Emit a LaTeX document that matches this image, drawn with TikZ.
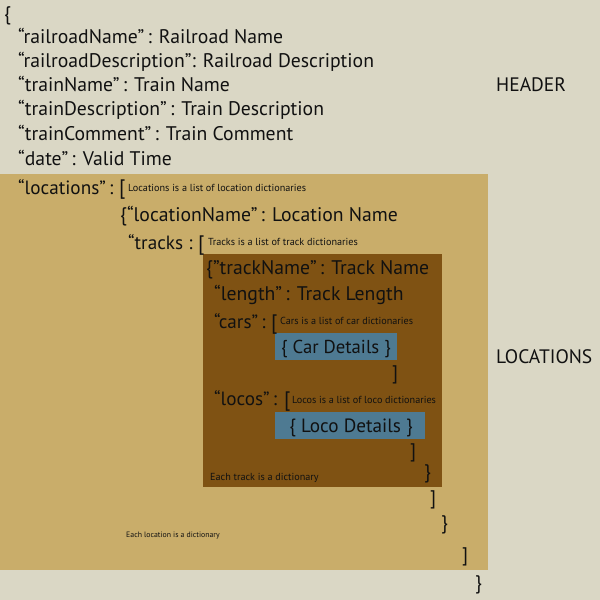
\documentclass[tikz,border=0pt]{standalone}
\usepackage{fontspec}
\setmainfont{PT Sans}
\definecolor{bgc}{HTML}{DAD7C5}
\definecolor{tanc}{HTML}{C9AD6A}
\definecolor{brownc}{HTML}{7F5213}
\definecolor{bluec}{HTML}{4E7A92}
\definecolor{inkc}{HTML}{111111}
\begin{document}
\begin{tikzpicture}[x=1pt,y=-1pt,
  txt/.style={anchor=base west,inner sep=0pt,text=inkc,font=\fontsize{19.7}{22}\selectfont},
  big/.style={txt,font=\fontsize{19.2}{22}\selectfont},
  brk/.style={txt,font=\fontsize{21}{22}\selectfont},
  note/.style={txt,font=\fontsize{10.2}{12}\selectfont},
  smallnote/.style={txt,font=\fontsize{7.8}{9}\selectfont},
  lbl/.style={txt,font=\fontsize{19.5}{21}\selectfont},
  box/.style={draw=none}]
\fill[bgc] (0,0) rectangle (600,600);
\useasboundingbox (0,0) rectangle (600,600);
\fill[tanc] (0,174) rectangle (488,570);
\fill[brownc] (203,254) rectangle (442,487);
\node[box,fill=bluec,minimum width=122pt,minimum height=27pt,inner sep=0pt,anchor=north west] (carbox) at (275,333) {};
\node[box,fill=bluec,minimum width=150pt,minimum height=27pt,inner sep=0pt,anchor=north west] (locobox) at (275,412) {};
% header
\node[txt] (ob) at (4,20) {\{};
\node[txt] (h1) at (18,43) {“railroadName”\,: Railroad Name};
\node[txt] (h2) at (18,67) {“railroadDescription”: Railroad Description};
\node[txt] (h3) at (18,91) {“trainName”\,: Train Name};
\node[txt] (h4) at (18,115) {“trainDescription”\,: Train Description};
\node[txt] (h5) at (18,140) {“trainComment”\,: Train Comment};
\node[txt] (h6) at (18,165) {“date”\,: Valid Time};
\node[lbl] (header) at (496,91) {HEADER};
\node[lbl] (locs) at (496,363) {LOCATIONS};
% locations
\node[big] (l1) at (18,194) {“locations”\,:};
\node[brk] (l1b) at (119,194) {[};
\node[note] (n1) at (128,191) {Locations is a list of location dictionaries};
\node[txt] (l2) at (120,221) {\{“locationName”\,: Location Name};
\node[big] (l3) at (128,249) {“tracks :};
\node[brk] (l3b) at (198,250) {[};
\node[note] (n2) at (208,245) {Tracks is a list of track dictionaries};
% tracks
\node[txt] (t1) at (206,274) {\{”trackName”\,: Track Name};
\node[txt] (t2) at (214,300) {“length”\,: Track Length};
\node[big] (t3) at (214,328) {“cars”\,:};
\node[brk] (t3b) at (271,329) {[};
\node[note] (n3) at (280,324) {Cars is a list of car dictionaries};
\node[txt,anchor=base,font=\fontsize{18.7}{21}\selectfont] (cd) at (336,353) {\{ Car Details \}};
\node[txt] (cb) at (392,379) {]};
\node[big] (t4) at (214,405) {“locos”\,:};
\node[brk] (t4b) at (284,406) {[};
\node[note] (n4) at (292,403) {Locos is a list of loco dictionaries};
\node[txt,anchor=base,font=\fontsize{19.2}{21}\selectfont] (ld) at (351,432) {\{ Loco Details \}};
\node[txt] (lb) at (410,457) {]};
\node[note] (n5) at (210,480) {Each track is a dictionary};
\node[txt] (tcb) at (424,478) {\}};
\node[txt] (e1) at (430,504) {]};
\node[txt] (e2) at (441,529) {\}};
\node[smallnote] (n6) at (126,537) {Each location is a dictionary};
\node[txt] (e3) at (462,561) {]};
\node[txt] (e4) at (475,589) {\}};
\end{tikzpicture}
\end{document}
